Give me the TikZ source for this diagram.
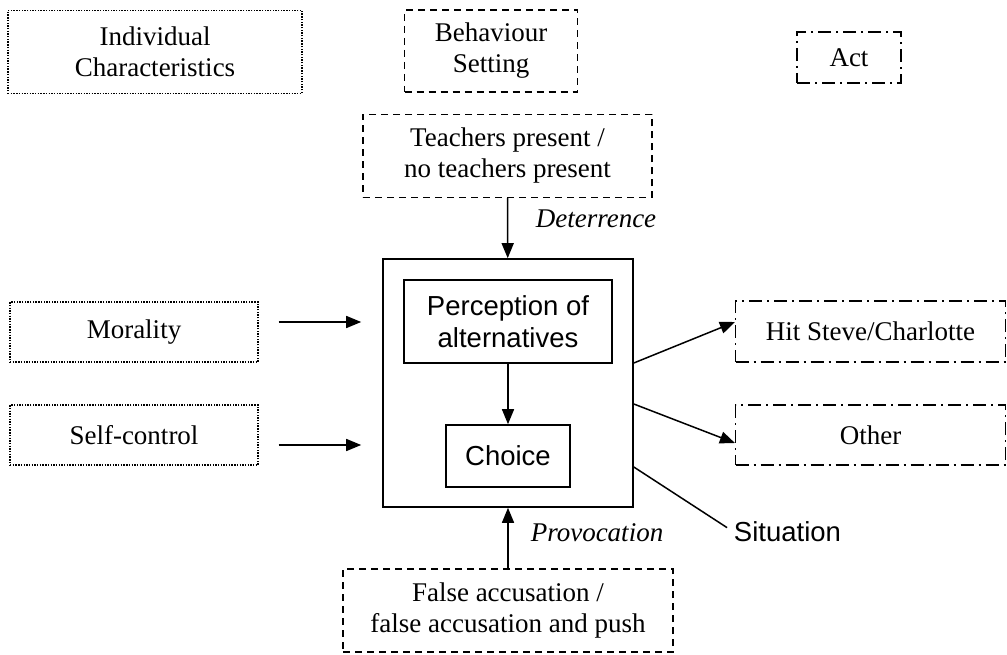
\documentclass[tikz,border=0pt]{standalone}
\usepackage{fontspec}
\setmainfont{Liberation Serif}
\setsansfont{Liberation Sans}
\usepackage{tikz}
\usetikzlibrary{calc,positioning,arrows.meta}

\begin{document}
\begin{tikzpicture}[
  x=1pt, y=-1pt,
  factor/.style={
    rectangle, draw=black, line width=1.2pt,
    inner sep=0pt, align=center,
    font=\fontsize{27}{31}\selectfont
  },
  proc/.style={
    rectangle, draw=black, line width=1.6pt,
    inner sep=0pt, align=center,
    font=\sffamily\fontsize{27.5}{32}\selectfont
  },
  indivline/.style={dash pattern=on 1.4pt off 1.3pt},
  settingline/.style={dash pattern=on 7pt off 5pt},
  actline/.style={dash pattern=on 13pt off 5pt on 2pt off 5pt},
  elabel/.style={font=\itshape\fontsize{27}{31}\selectfont, inner sep=0pt},
  arr/.style={-{Triangle[length=15pt,width=12pt]}, line width=1.5pt},
]
\useasboundingbox (0,0) rectangle (1007,655);

% === Column headers ===
\node[factor, indivline, minimum width=294pt, minimum height=83pt] (indiv) at (155,52)
  {Individual\\Characteristics};
\node[factor, settingline, minimum width=173pt, minimum height=82pt] (setting) at (491,51)
  {Behaviour\\Setting};
\node[factor, actline, minimum width=104pt, minimum height=51pt] (act) at (849,57.5)
  {Act};

% === Behaviour setting: deterrence and provocation ===
\node[factor, settingline, minimum width=289pt, minimum height=83pt] (teachers) at (507.5,156)
  {Teachers present /\\no teachers present};
\node[factor, settingline, minimum width=330pt, minimum height=83pt] (falseacc) at (508,610.5)
  {False accusation /\\false accusation and push};

% === Perception-choice process ===
\node[proc, minimum width=250pt, minimum height=248pt] (frame) at (508,383) {};
\node[proc, minimum width=208pt, minimum height=83pt] (percep) at (508,321.5)
  {Perception of\\alternatives};
\node[proc, minimum width=124pt, minimum height=62pt] (choice) at (508,456) {Choice};

% === Individual characteristics ===
\node[factor, indivline, minimum width=248pt, minimum height=60pt] (morality) at (134,332)
  {Morality};
\node[factor, indivline, minimum width=248pt, minimum height=60pt] (selfctrl) at (134,435)
  {Self-control};

% === Acts ===
\node[factor, actline, minimum width=270pt, minimum height=61pt] (hit) at (870.5,331.5)
  {Hit Steve/Charlotte};
\node[factor, actline, minimum width=270pt, minimum height=60pt] (other) at (870.5,435)
  {Other};

% === Labels ===
\node[elabel] (deter) at (596,219) {Deterrence};
\node[elabel] (provoc) at (597,533) {Provocation};
\node[font=\sffamily\fontsize{27.5}{32}\selectfont, inner sep=0pt] (situation) at (787.5,532)
  {Situation};

% === Arrows ===
\draw[arr] (teachers) -- (frame);
\draw[arr] (falseacc) -- (frame);
\draw[arr] (percep) -- (choice);
\draw[arr] ($(morality.east)+(20,-10)$) -- ($(morality.east -| frame.west)+(-21,-10)$);
\draw[arr] ($(selfctrl.east)+(20,10)$) -- ($(selfctrl.east -| frame.west)+(-21,10)$);
\draw[arr] ($(frame.east)+(0,-20)$) -- ($(hit.west)+(0,-9.5)$);
\draw[arr] ($(frame.east)+(0,21)$) -- ($(other.west)+(0,8)$);
\draw[line width=1.5pt, shorten >=8pt] ($(frame.east)+(0,84)$) -- (situation.west);

\end{tikzpicture}
\end{document}
